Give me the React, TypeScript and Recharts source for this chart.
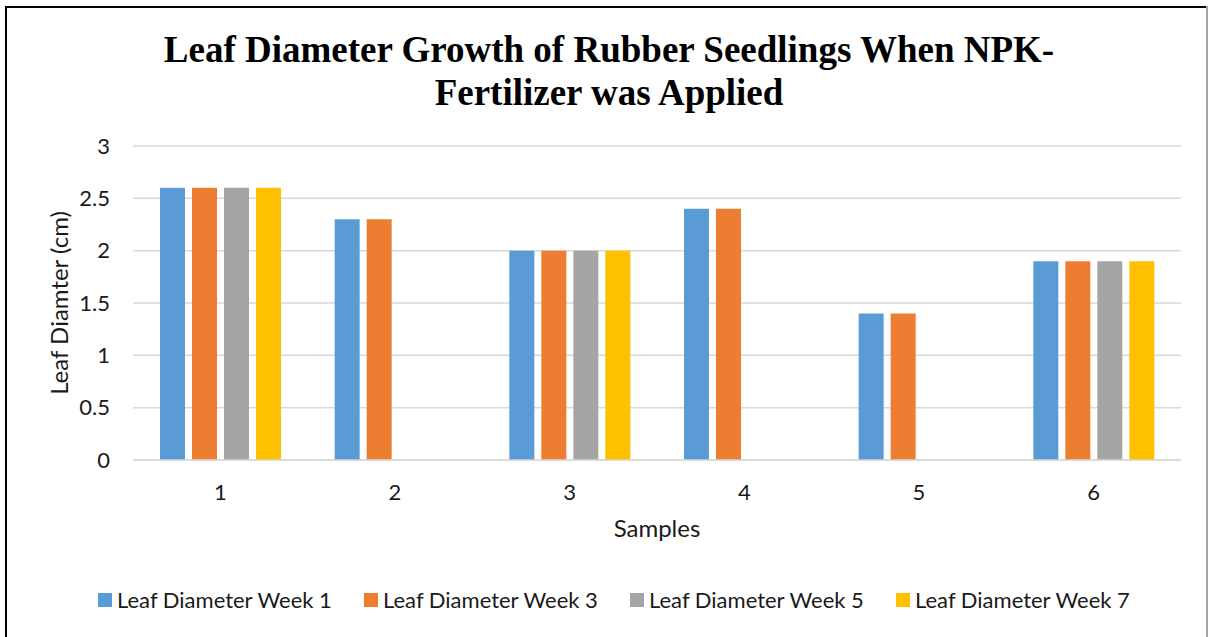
import React from "react";
import {
    Bar,
    BarChart,
    CartesianGrid,
    Legend,
    XAxis,
    YAxis,
} from "recharts";

const samples = ["1", "2", "3", "4", "5", "6"];
const week1 = [2.6, 2.3, 2.0, 2.4, 1.4, 1.9];
const week3 = [2.6, 2.3, 2.0, 2.4, 1.4, 1.9];
const week5 = [2.6, 0, 2.0, 0, 0, 1.9];
const week7 = [2.6, 0, 2.0, 0, 0, 1.9];
const yTicks = [0, 0.5, 1, 1.5, 2, 2.5, 3];

const seriesNames = [
    "Leaf Diameter Week 1",
    "Leaf Diameter Week 3",
    "Leaf Diameter Week 5",
    "Leaf Diameter Week 7",
];
const seriesColors = ["#5b9bd5", "#ed7d31", "#a5a5a5", "#ffc000"];

const data = samples.map((s, i) => ({
    name: s,
    w1: week1[i],
    w3: week3[i],
    w5: week5[i],
    w7: week7[i],
}));

const sans = "Lato, 'Liberation Sans', sans-serif";

const LegendContent = () => (
    <div style={{ position: "relative", height: 28, width: 1209 }}>
        {seriesNames.map((n, i) => (
            <div
                key={n}
                style={{
                    position: "absolute",
                    left: 98 + 266 * i,
                    top: 0,
                    display: "flex",
                    alignItems: "center",
                    fontFamily: sans,
                    fontSize: 22,
                    color: "#1a1a1a",
                    whiteSpace: "nowrap",
                    lineHeight: "28px",
                }}
            >
                <span
                    style={{
                        display: "inline-block",
                        width: 14,
                        height: 14,
                        background: seriesColors[i],
                        marginRight: 5,
                    }}
                />
                {n}
            </div>
        ))}
    </div>
);

export default function App() {
    const titleStyle: React.CSSProperties = {
        position: "absolute",
        left: 0,
        width: 1218,
        textAlign: "center",
        fontFamily: "'Liberation Serif', 'Times New Roman', serif",
        fontWeight: "bold",
        fontSize: 37,
        lineHeight: "43px",
        color: "#000",
        whiteSpace: "nowrap",
    };
    return (
        <div
            style={{
                position: "absolute",
                left: 0,
                top: 0,
                width: 1209,
                height: 637,
                overflow: "hidden",
                background: "#fff",
            }}
        >
            {/* frame */}
            <div style={{ position: "absolute", left: 5, top: 6, width: 2, height: 640, background: "#000" }} />
            <div style={{ position: "absolute", left: 5, top: 6, width: 1203, height: 2, background: "#000" }} />
            <div style={{ position: "absolute", left: 1206, top: 6, width: 2, height: 640, background: "#a6a6a6" }} />

            <div style={{ ...titleStyle, top: 28 }}>
                Leaf Diameter Growth of Rubber Seedlings When NPK-
            </div>
            <div style={{ ...titleStyle, top: 71 }}>Fertilizer was Applied</div>

            <div style={{ position: "absolute", left: 0, top: 0 }}>
                <BarChart
                    width={1209}
                    height={637}
                    data={data}
                    margin={{ top: 146, right: 28, left: 33, bottom: 92 }}
                    barSize={25}
                    barGap={7}
                >
                    <CartesianGrid vertical={false} stroke="#d9d9d9" strokeWidth={1.5} />
                    <XAxis
                        dataKey="name"
                        height={85}
                        tickLine={false}
                        tickSize={0}
                        tickMargin={24}
                        axisLine={{ stroke: "#d9d9d9", strokeWidth: 1.5 }}
                        tick={{ fill: "#1a1a1a", fontSize: 22, fontFamily: sans }}
                        label={{
                            value: "Samples",
                            position: "insideBottom",
                            offset: 8,
                            style: { fill: "#1a1a1a", fontSize: 24, fontFamily: sans },
                        }}
                    />
                    <YAxis
                        width={100}
                        domain={[0, 3]}
                        ticks={yTicks}
                        axisLine={false}
                        tickLine={false}
                        tickSize={0}
                        tickMargin={23}
                        tick={{ fill: "#1a1a1a", fontSize: 22, fontFamily: sans }}
                        label={{
                            value: "Leaf Diamter (cm)",
                            angle: -90,
                            position: "center",
                            dx: -24,
                            style: { fill: "#1a1a1a", fontSize: 24, fontFamily: sans, textAnchor: "middle" },
                        }}
                    />
                    <Legend
                        verticalAlign="middle"
                        align="center"
                        layout="horizontal"
                        wrapperStyle={{ top: 586, left: 0, width: 1209 }}
                        content={<LegendContent />}
                    />
                    <Bar dataKey="w1" name={seriesNames[0]} fill={seriesColors[0]} isAnimationActive={false} />
                    <Bar dataKey="w3" name={seriesNames[1]} fill={seriesColors[1]} isAnimationActive={false} />
                    <Bar dataKey="w5" name={seriesNames[2]} fill={seriesColors[2]} isAnimationActive={false} />
                    <Bar dataKey="w7" name={seriesNames[3]} fill={seriesColors[3]} isAnimationActive={false} />
                </BarChart>
            </div>
        </div>
    );
}
